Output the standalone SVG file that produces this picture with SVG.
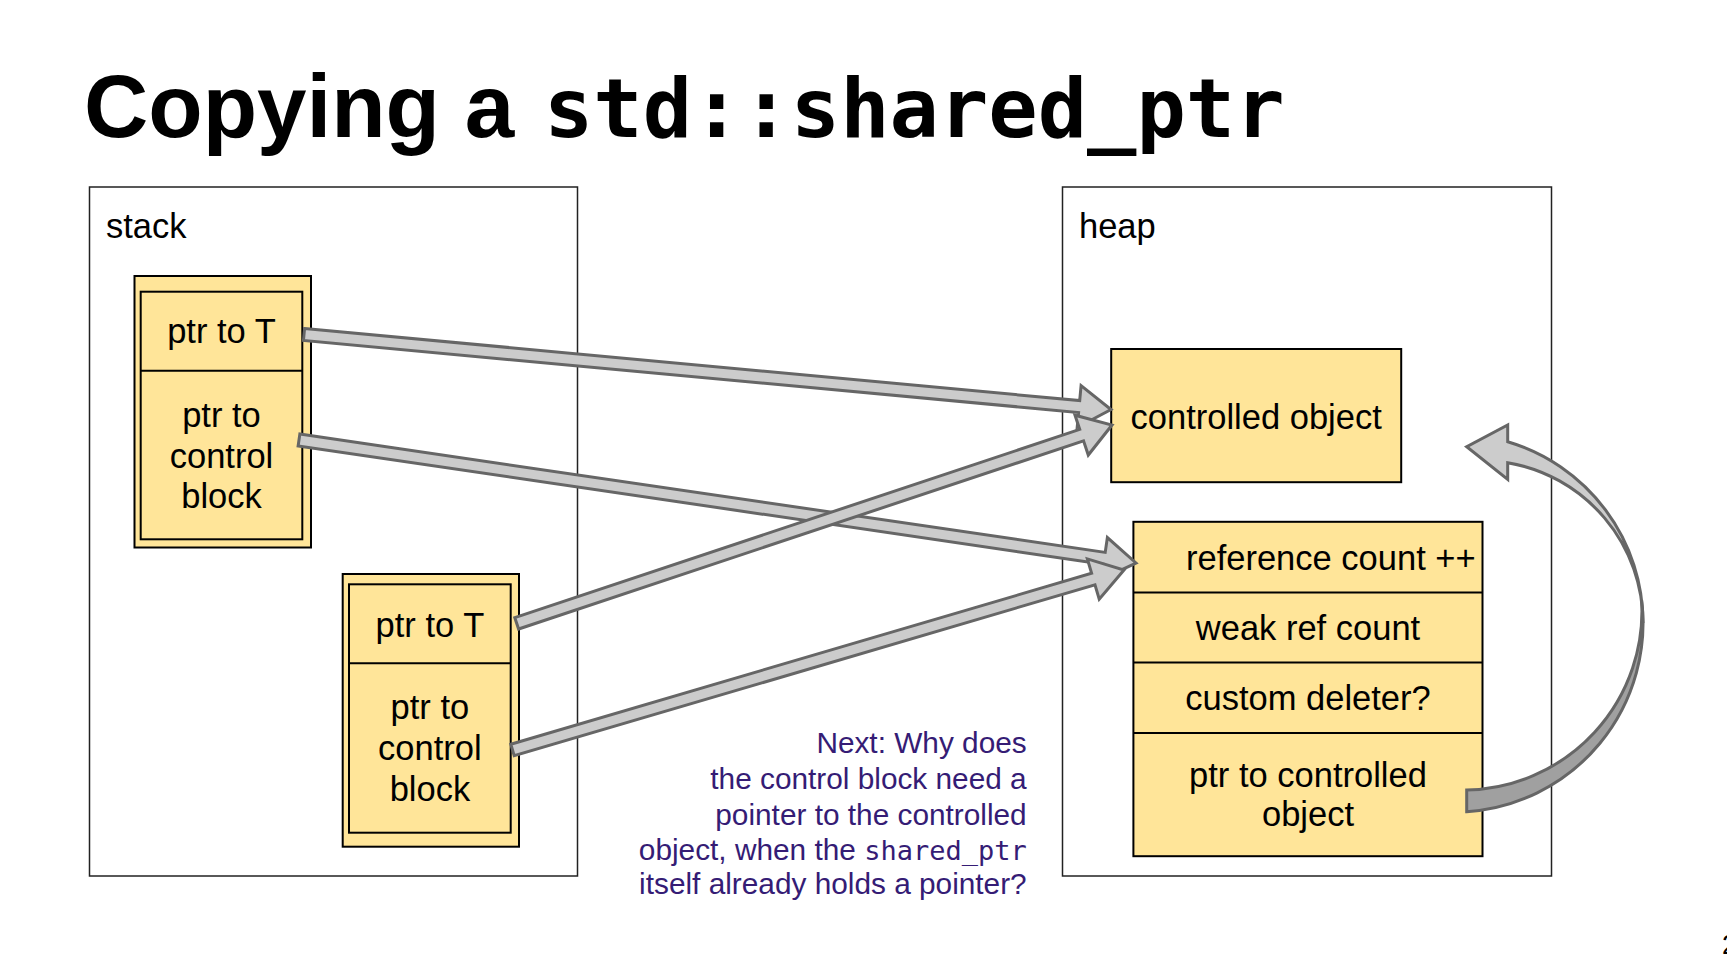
<svg xmlns="http://www.w3.org/2000/svg" width="1727" height="959" viewBox="0 0 1727 959">
<style>
.frame{fill:#fff;stroke:#222;stroke-width:1.5}
.ybox{fill:#ffe599;stroke:#000;stroke-width:2}
.yline{stroke:#000;stroke-width:2}
.t{font-family:"Liberation Sans",Arial,sans-serif;font-size:34.5px;fill:#000}
.c{text-anchor:middle}
.arr{fill:#cccccc;stroke:#666666;stroke-width:3;stroke-linejoin:miter}
.arrd{fill:#a0a0a0;stroke:#666666;stroke-width:3;stroke-linejoin:miter}
.note{font-family:"Liberation Sans",Arial,sans-serif;font-size:29.8px;fill:#351c75;text-anchor:end}
.mono{font-family:"DejaVu Sans Mono","Liberation Mono",monospace}
</style>
<rect width="1727" height="959" fill="#fff"/>
<g id="title">
<text x="84" y="137" style="font-family:'Liberation Sans',Arial,sans-serif;font-weight:bold;font-size:89px" fill="#000">Copying a <tspan x="544" class="mono" style="font-size:82px">std::shared_ptr</tspan></text>
</g>
<g id="stack">
<rect class="frame" x="89.5" y="187" width="488" height="689"/>
<text class="t" x="106" y="238">stack</text>
</g>
<g id="heap">
<rect class="frame" x="1062.5" y="187" width="489" height="689"/>
<text class="t" x="1079" y="238">heap</text>
</g>
<g id="sp1">
<rect class="ybox" x="134.5" y="276" width="176.5" height="271.5"/>
<rect class="ybox" x="140.7" y="291.7" width="161.6" height="247.6"/>
<line class="yline" x1="140.7" y1="370.7" x2="302.3" y2="370.7"/>
<text class="t c" x="221.5" y="343.3">ptr to T</text>
<text class="t c" x="221.5" y="426.7">ptr to</text>
<text class="t c" x="221.5" y="467.5">control</text>
<text class="t c" x="221.5" y="508.3">block</text>
</g>
<g id="sp2">
<rect class="ybox" x="342.7" y="574" width="176.3" height="272.7"/>
<rect class="ybox" x="349" y="584.3" width="161.7" height="248.4"/>
<line class="yline" x1="349" y1="663.3" x2="510.7" y2="663.3"/>
<text class="t c" x="429.9" y="636.7">ptr to T</text>
<text class="t c" x="429.9" y="719">ptr to</text>
<text class="t c" x="429.9" y="760">control</text>
<text class="t c" x="429.9" y="801">block</text>
</g>
<g id="controlled-object">
<rect class="ybox" x="1111.2" y="349" width="290" height="133.2"/>
<text class="t c" x="1256.2" y="428.5">controlled object</text>
</g>
<g id="control-block">
<rect class="ybox" x="1133.4" y="521.8" width="349.1" height="334.4"/>
<line class="yline" x1="1133.4" y1="592.4" x2="1482.5" y2="592.4"/>
<line class="yline" x1="1133.4" y1="662.6" x2="1482.5" y2="662.6"/>
<line class="yline" x1="1133.4" y1="732.9" x2="1482.5" y2="732.9"/>
<text class="t" x="1186" y="569.5">reference count ++</text>
<text class="t c" x="1308" y="639.5">weak ref count</text>
<text class="t c" x="1308" y="710.3">custom deleter?</text>
<text class="t c" x="1308" y="786.5">ptr to controlled</text>
<text class="t c" x="1308" y="826">object</text>
</g>
<g id="connectors">
<polygon class="arr" points="304.56,328.53 1079.70,400.57 1081.08,385.63 1111,409.5 1077.20,427.45 1078.59,412.51 303.45,340.47"/>
<polygon class="arr" points="299.87,434.06 1105.21,552.41 1107.39,537.57 1136,563 1101.29,579.13 1103.47,564.29 298.13,445.94"/>
<polygon class="arr" points="514.80,617.61 1079.74,429.42 1075.00,415.19 1112,425 1088.28,455.03 1083.54,440.80 518.60,628.99"/>
<polygon class="arr" points="510.81,744.24 1091.61,573.28 1087.37,558.89 1124,570 1099.23,599.19 1094.99,584.80 514.19,755.76"/>
<path class="arrd" d="M1641.6 600 A189 189 0 0 1 1466.7 811.7 L1466.7 790 A179 179 0 0 0 1641.6 600 Z"/>
<path class="arr" d="M1507.7 441.7 A189 189 0 0 1 1643 623 A162.6 162.6 0 0 0 1507.7 462.7 L1507.7 479.3 L1466.7 446.7 L1507.7 425 Z"/>
</g>
<g id="note">
<text class="note" x="1026.7" y="753.3">Next: Why does</text>
<text class="note" x="1026.7" y="789.3">the control block need a</text>
<text class="note" x="1026.7" y="825">pointer to the controlled</text>
<text class="note" x="1026.7" y="859.5">object, when the <tspan class="mono" style="font-size:27px">shared_ptr</tspan></text>
<text class="note" x="1026.7" y="894">itself already holds a pointer?</text>
</g>
<g id="page-number">
<text x="1722" y="954" style="font-family:'Liberation Sans',Arial,sans-serif;font-size:27px" fill="#000">2</text>
</g>
</svg>
